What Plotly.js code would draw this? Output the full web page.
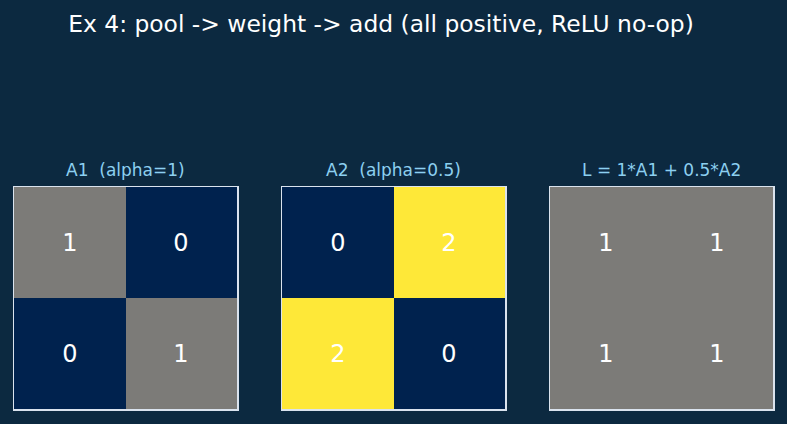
<!DOCTYPE html>
<html><head><meta charset="utf-8">
<script src="https://cdn.plot.ly/plotly-3.0.1.min.js"></script>
<style>html,body{margin:0;padding:0;background:#0c2940;}</style>
</head><body><div id="chart" style="width:787px;height:424px;"></div>
<script>
const chartTitle = "Ex 4: pool -> weight -> add (all positive, ReLU no-op)";
const panelTitles = ["A1\u00a0 (alpha=1)", "A2\u00a0 (alpha=0.5)", "L = 1*A1 + 0.5*A2"];
const A1 = [[1, 0], [0, 1]];
const A2 = [[0, 2], [2, 0]];
const L = [[1, 1], [1, 1]];
const matrices = [A1, A2, L];
const cols = [0, 1];
const rows = [0, 1];

(function () {
  const W = 787, H = 424;
  const bg = "#0c2940";
  const cividis = [[0, "#00224e"], [0.25, "#414d6b"], [0.5, "#7c7b78"], [0.75, "#bcaf6f"], [1, "#fee838"]];
  const lefts = [14, 282, 550], pw = 223, pTop = 187, pBottom = 409;

  const traces = [], layout = {
    width: W, height: H, margin: {l: 0, r: 0, t: 0, b: 0},
    paper_bgcolor: bg, plot_bgcolor: bg,
    font: {family: "DejaVu Sans", color: "#ffffff"},
    showlegend: false,
    annotations: [],
    title: {text: chartTitle, x: 381 / W, xanchor: "center", y: 1 - 24 / H, yanchor: "middle",
            font: {family: "DejaVu Sans", size: 23.4, color: "#ffffff"}}
  };
  matrices.forEach((m, i) => {
    const sx = i === 0 ? "" : String(i + 1);
    traces.push({
      type: "heatmap", z: m, x: cols, y: rows, xaxis: "x" + sx, yaxis: "y" + sx,
      colorscale: cividis, zmin: 0, zmax: 2, showscale: false,
      texttemplate: "%{z}", textfont: {family: "DejaVu Sans", size: 24, color: "#ffffff"},
      hoverinfo: "skip", xgap: 0, ygap: 0
    });
    const ax = {showline: true, mirror: true, linecolor: "#dae3ee", linewidth: 1.5,
                showgrid: false, zeroline: false, showticklabels: false, ticks: "", fixedrange: true};
    layout["xaxis" + sx] = Object.assign({}, ax, {domain: [lefts[i] / W, (lefts[i] + pw) / W], anchor: "y" + sx, range: [-0.5, 1.5]});
    layout["yaxis" + sx] = Object.assign({}, ax, {domain: [1 - pBottom / H, 1 - pTop / H], anchor: "x" + sx, range: [1.5, -0.5]});
    layout.annotations.push({
      text: panelTitles[i], xref: "paper", yref: "paper",
      x: (lefts[i] + pw / 2) / W, y: 1 - 170 / H, xanchor: "center", yanchor: "middle",
      showarrow: false, font: {family: "DejaVu Sans", size: 17, color: "#8cd0f0"}
    });
  });
  Plotly.newPlot("chart", traces, layout, {displayModeBar: false, staticPlot: true});
})();
</script></body></html>
